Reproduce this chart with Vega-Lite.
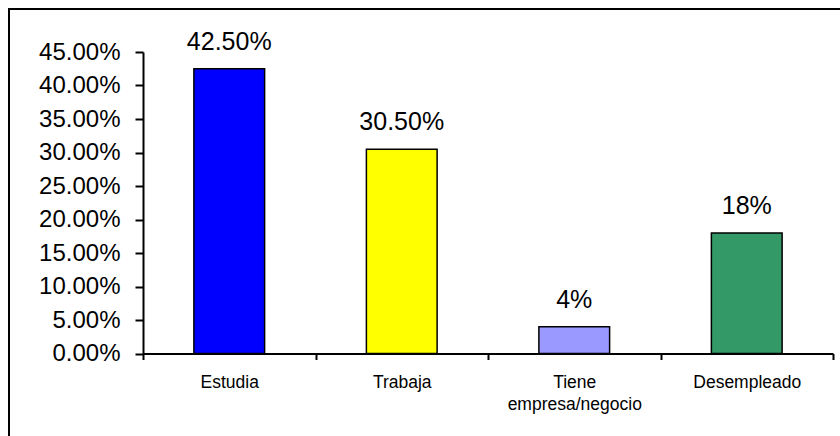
{
  "$schema": "https://vega.github.io/schema/vega-lite/v6.json",
  "width": 831,
  "height": 427,
  "autosize": {"type": "none"},
  "padding": {"left": 9, "top": 9, "right": 0, "bottom": 0},
  "background": "white",
  "config": {
    "view": {"stroke": "black", "strokeWidth": 2, "strokeDash": [831, 1258, 427]},
    "font": "Liberation Sans"
  },
  "data": {
    "values": [
      {"categoria": "Estudia", "valor": 0.425, "etiqueta": "42.50%"},
      {"categoria": "Trabaja", "valor": 0.305, "etiqueta": "30.50%"},
      {"categoria": "Tiene empresa/negocio", "valor": 0.04, "etiqueta": "4%"},
      {"categoria": "Desempleado", "valor": 0.18, "etiqueta": "18%"}
    ]
  },
  "encoding": {
    "x": {
      "field": "categoria",
      "type": "nominal",
      "sort": null,
      "scale": {"paddingInner": 0, "paddingOuter": 0, "range": [134, 824]},
      "axis": {
        "title": null,
        "offset": -82.5,
        "labelAngle": 0,
        "tickBand": "extent",
        "domainColor": "black",
        "domainWidth": 2,
        "tickColor": "black",
        "tickWidth": 2,
        "tickSize": 6,
        "labelFontSize": 17.5,
        "labelColor": "black",
        "labelBaseline": "alphabetic",
        "labelPadding": 28,
        "labelLineHeight": 22,
        "labelExpr": "datum.value == 'Tiene empresa/negocio' ? ['Tiene', 'empresa/negocio'] : datum.value"
      }
    },
    "y": {
      "field": "valor",
      "type": "quantitative",
      "scale": {"domain": [0, 0.45], "nice": false, "range": [344.5, 43]},
      "axis": {
        "title": null,
        "offset": -134,
        "values": [0, 0.05, 0.1, 0.15, 0.2, 0.25, 0.3, 0.35, 0.4, 0.45],
        "format": ".2%",
        "grid": false,
        "labelFontSize": 24,
        "labelColor": "black",
        "labelPadding": 15,
        "tickSize": 8,
        "tickWidth": 2,
        "tickColor": "black",
        "domainWidth": 2,
        "domainColor": "black"
      }
    }
  },
  "layer": [
    {
      "mark": {"type": "bar", "width": {"band": 0.41}, "stroke": "black", "strokeWidth": 1.5},
      "encoding": {
        "color": {
          "field": "categoria",
          "type": "nominal",
          "scale": {
            "domain": ["Estudia", "Trabaja", "Tiene empresa/negocio", "Desempleado"],
            "range": ["#0000FF", "#FFFF00", "#9999FF", "#339966"]
          },
          "legend": null
        }
      }
    },
    {
      "mark": {"type": "text", "baseline": "alphabetic", "dy": -19, "fontSize": 25, "color": "black"},
      "encoding": {"text": {"field": "etiqueta"}}
    }
  ]
}
